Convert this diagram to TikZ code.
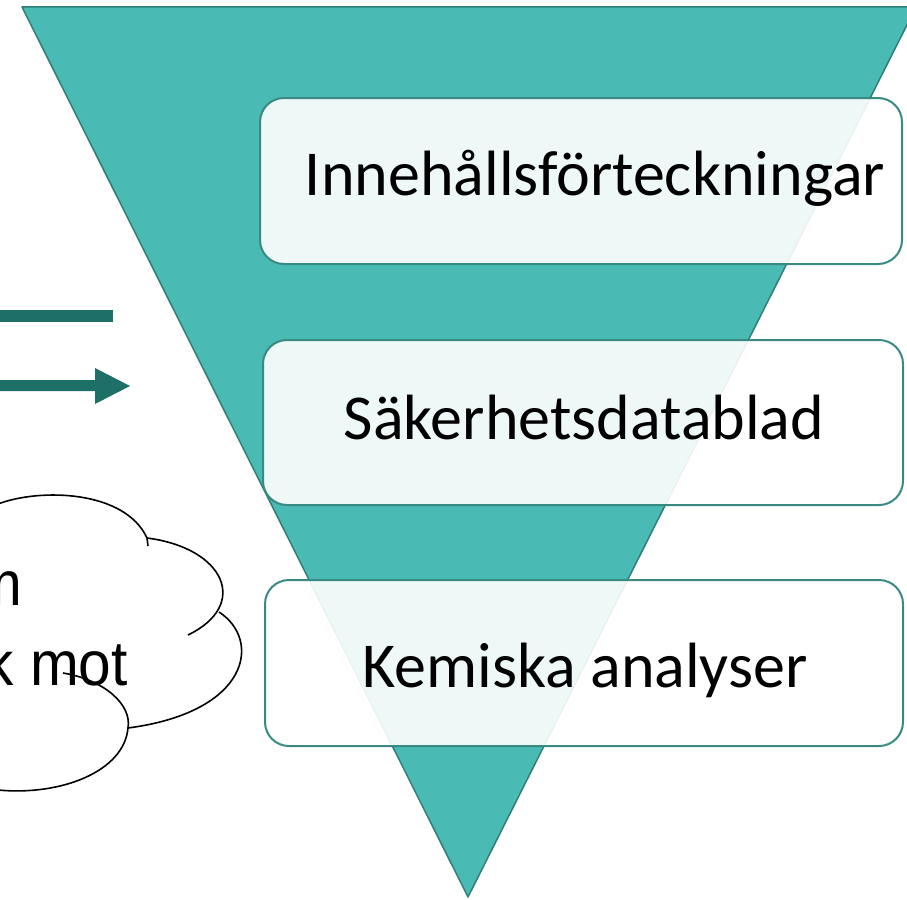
\documentclass[tikz,border=0pt]{standalone}
\usepackage{fontspec}
\setmainfont{Carlito}
\newfontfamily\arialfont{Liberation Sans}
\usetikzlibrary{arrows.meta}
\definecolor{tealfill}{HTML}{4ABAB4}
\definecolor{tealline}{HTML}{2F7F79}
\definecolor{tealdark}{HTML}{1F6F69}
\definecolor{boxline}{HTML}{3A8A84}
\tikzset{
  funnel/.style={fill=tealfill, draw=tealline, line width=1.5pt, line join=round},
  levelbox/.style={draw=boxline, line width=2pt, fill=white, fill opacity=0.9, rounded corners=24pt},
  leveltext/.style={font=\fontsize{64}{70}\selectfont, text=black, inner sep=0pt},
  cloudline/.style={draw=black, line width=1.6pt},
  cloudtext/.style={font=\arialfont\fontsize{63}{70}\selectfont, text=black, inner sep=0pt, xscale=0.93},
  bar/.style={draw=none, fill=tealdark}
}
\begin{document}
\begin{tikzpicture}[x=1pt,y=1pt]
\useasboundingbox (0,0) rectangle (907,-899);
\begin{scope}
\clip (0,0) rectangle (907,-899);
% funnel
\path[funnel] (22,-7) -- (916,-7) -- (468,-897) -- cycle;
% boxes
\path[levelbox] (260,-98) rectangle (902,-264);
\path[levelbox] (263,-340) rectangle (903,-505);
\path[levelbox] (265,-580) rectangle (903,-746);
\end{scope}
\node[leveltext, anchor=base] (t1) at (595,-195) {Innehållsförteckningar};
\node[leveltext, anchor=base] (t2) at (584,-439) {Säkerhetsdatablad};
\node[leveltext, anchor=base] (t3) at (585,-687) {Kemiska analyser};
% left arrows
\path[bar] (0,-310) rectangle (113,-322);
\path[bar] (0,-380) -- (95,-380) -- (95,-368) -- (130,-386) -- (95,-404) -- (95,-391) -- (0,-391) -- cycle;
% cloud
\begin{scope}
\clip (0,0) rectangle (907,-899);
\draw[cloudline] (-2,-504) .. controls (40,-488) and (125,-490) .. (147,-538) -- (148,-546);
\draw[cloudline] (147,-538) .. controls (225,-548) and (250,-605) .. (188,-635);
\draw[cloudline] (219,-612) .. controls (262,-640) and (250,-712) .. (128,-728);
\draw[cloudline] (63,-673) .. controls (105,-680) and (132,-705) .. (128,-728) .. controls (124,-772) and (60,-796) .. (-2,-790);
\end{scope}
\node[cloudtext, anchor=base east] (c1) at (22,-605) {m};
\node[cloudtext, anchor=base east] (c2) at (128,-685) {k mot};
\end{tikzpicture}
\end{document}
